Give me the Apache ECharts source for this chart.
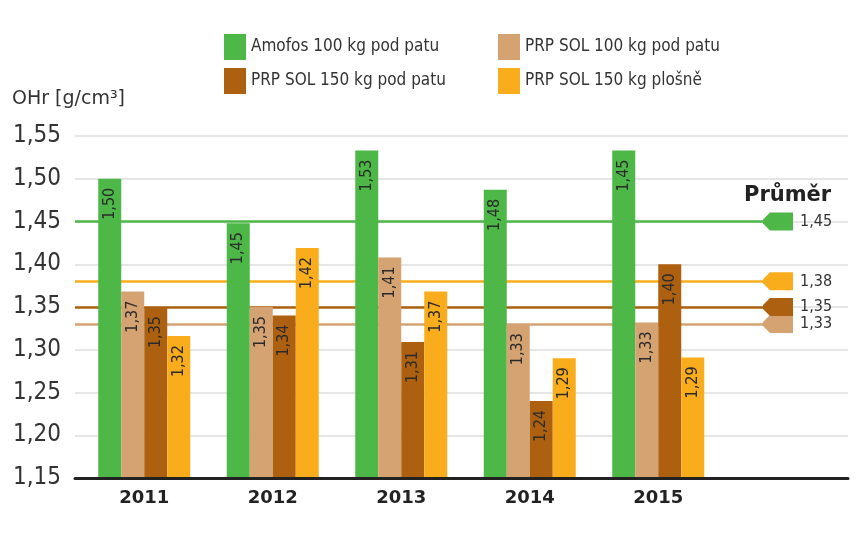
<!DOCTYPE html>
<html><head><meta charset="utf-8">
<script src="https://cdn.jsdelivr.net/npm/echarts@6/dist/echarts.min.js"></script>
<style>html,body{margin:0;padding:0;background:#fff}#c{width:863px;height:540px}</style>
</head><body><div id="c"></div>
<script>
// ---- data ----
const categories = ['2011', '2012', '2013', '2014', '2015', ''];
const seriesNames = ['Amofos 100 kg pod patu', 'PRP SOL 100 kg pod patu', 'PRP SOL 150 kg pod patu', 'PRP SOL 150 kg plošně'];
// bar heights as drawn
const amofos   = [1.50, 1.448, 1.533, 1.487, 1.533];
const prp100   = [1.368, 1.35, 1.408, 1.33, 1.332];
const prp150pp = [1.35, 1.34, 1.309, 1.24, 1.40];
const prp150pl = [1.316, 1.419, 1.368, 1.29, 1.291];
// printed value labels
const amofosLbl   = [1.50, 1.45, 1.53, 1.48, 1.45];
const prp100Lbl   = [1.37, 1.35, 1.41, 1.33, 1.33];
const prp150ppLbl = [1.35, 1.34, 1.31, 1.24, 1.40];
const prp150plLbl = [1.32, 1.42, 1.37, 1.29, 1.29];
// averages (Průměr)
const averages = [1.45, 1.33, 1.35, 1.38];
const yTicks = { min: 1.15, max: 1.55, interval: 0.05 };

const colors = ['#4db748', '#d5a272', '#ad600f', '#f9ac1c'];
const COND = '"DejaVu Sans Condensed", "DejaVu Sans", sans-serif';
const fmt = v => v.toFixed(2).replace('.', ',');

const values = [amofos, prp100, prp150pp, prp150pl];
const labels = [amofosLbl, prp100Lbl, prp150ppLbl, prp150plLbl];

const barSeries = values.map((vals, i) => ({
  name: seriesNames[i],
  type: 'bar',
  xAxisIndex: 0, yAxisIndex: 0,
  data: vals,
  barWidth: 23,
  barGap: '0%',
  z: 3,
  itemStyle: { color: colors[i] },
  label: {
    show: true, position: 'insideTop', rotate: 90, align: 'right', verticalAlign: 'middle',
    distance: 9, fontSize: 16, fontFamily: COND, color: '#2a2a2a',
    formatter: p => fmt(labels[i][p.dataIndex])
  }
}));

const tagPath = 'path://M0,7 L7,0 L30,0 L30,18 L7,18 L0,11 Z';

const avgSeries = {
  name: 'avg', type: 'line', xAxisIndex: 0, yAxisIndex: 0, data: [], z: 1, silent: true,
  markLine: {
    silent: true, symbol: ['none', 'none'], animation: false, z: 1,
    label: { show: false },
    data: averages.map((a, i) => [
      { yAxis: a, x: 75, lineStyle: { color: colors[i], width: 2.5, type: 'solid' } },
      { yAxis: a, x: 770 }
    ])
  },
  markPoint: {
    silent: true, animation: false, z: 1,
    symbol: tagPath, symbolSize: [30, 18], symbolKeepAspect: false,
    data: averages.map((a, i) => ({
      yAxis: a, x: 778,
      itemStyle: { color: colors[i] },
      label: { show: true, position: 'right', distance: 7, fontSize: 16, fontFamily: COND, color: '#333', formatter: fmt(a) }
    }))
  }
};

const option = {
  animation: false,
  backgroundColor: '#fff',
  title: [
    { text: 'OHr [g/cm³]', left: 12, top: 90, padding: 0,
      textStyle: { fontSize: 19, fontWeight: 'normal', color: '#333', fontFamily: '"DejaVu Sans", sans-serif' } },
    { text: 'Průměr', left: 744, top: 185, padding: 0,
      textStyle: { fontSize: 21, fontWeight: 'bold', color: '#222', fontFamily: '"DejaVu Sans", sans-serif' } }
  ],
  legend: [
    { left: 219, top: 29, orient: 'vertical', itemWidth: 22, itemHeight: 26, itemGap: 8, icon: 'rect',
      data: [seriesNames[0], seriesNames[2]], selectedMode: false,
      textStyle: { fontSize: 17, fontFamily: COND, color: '#333' } },
    { left: 493, top: 29, orient: 'vertical', itemWidth: 22, itemHeight: 26, itemGap: 8, icon: 'rect',
      data: [seriesNames[1], seriesNames[3]], selectedMode: false,
      textStyle: { fontSize: 17, fontFamily: COND, color: '#333' } }
  ],
  grid: [
    { left: 80, right: 12, top: 136, height: 342 },
    { left: 75, right: 15, top: 136, height: 342 }
  ],
  xAxis: [
    { type: 'category', gridIndex: 0, data: categories,
      axisLine: { show: false }, axisTick: { show: false },
      axisLabel: { margin: 11, fontSize: 18, fontWeight: 'bold', color: '#222', fontFamily: '"DejaVu Sans", sans-serif' } },
    { type: 'value', gridIndex: 1, min: 0, max: 1, z: 10,
      axisLine: { show: true, lineStyle: { color: '#222', width: 3 } },
      axisTick: { show: false }, axisLabel: { show: false }, splitLine: { show: false } }
  ],
  yAxis: [
    { type: 'value', gridIndex: 0, min: yTicks.min, max: yTicks.max, interval: yTicks.interval,
      axisLine: { show: false }, axisTick: { show: false }, axisLabel: { show: false }, splitLine: { show: false } },
    { type: 'value', gridIndex: 1, min: yTicks.min, max: yTicks.max, interval: yTicks.interval,
      axisLine: { show: false }, axisTick: { show: false },
      axisLabel: { margin: 14, fontSize: 24, color: '#333', fontFamily: COND, formatter: v => fmt(v) },
      splitLine: { show: true, lineStyle: { color: '#e6e6e6', width: 2 } } }
  ],
  series: [...barSeries, avgSeries]
};

const chart = echarts.init(document.getElementById('c'), null, { renderer: 'canvas' });
chart.setOption(option);
</script>
</body></html>
